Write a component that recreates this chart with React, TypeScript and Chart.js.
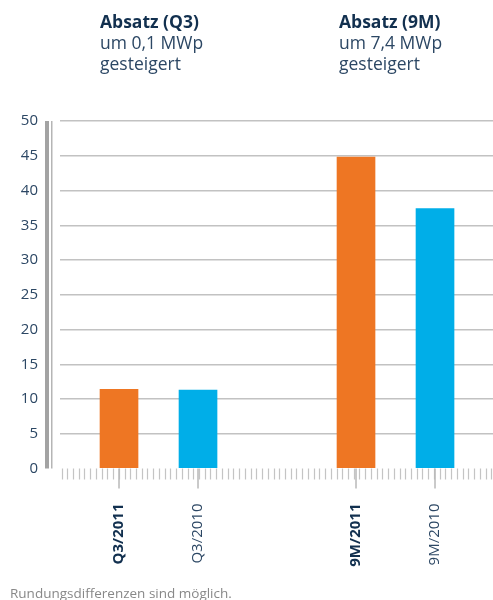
import React, { useEffect, useRef } from "react";
import { Chart, registerables } from "chart.js";

Chart.register(...registerables);

// ---- data ----
const categories = ["Q3/2011", "Q3/2010", "9M/2011", "9M/2010"];
const categoryPositions = [0, 1, 3, 4];
const absatzValues = [11.4, 11.3, 44.8, 37.4];
const boldCategory = [true, false, true, false];
const yTickValues = [0, 5, 10, 15, 20, 25, 30, 35, 40, 45, 50];
const headlineTitles = ["Absatz (Q3)", "Absatz (9M)"];
const headlineLine1 = ["um 0,1 MWp", "um 7,4 MWp"];
const headlineLine2 = ["gesteigert", "gesteigert"];
const footnote = "Rundungsdifferenzen sind möglich.";

// ---- styles ----
const ORANGE = "#EE7623";
const BLUE = "#00AEE8";
const barColors = [ORANGE, BLUE, ORANGE, BLUE];
const FONT = "'Open Sans', 'DejaVu Sans', sans-serif";
const NAVY = "#12304f";
const SLATE = "#2c4764";

const decorPlugin = {
  id: "decor",
  afterDraw(chart: any) {
    const { ctx, chartArea, scales } = chart;
    const y = scales.y;
    const x = scales.x;
    const y0 = y.getPixelForValue(0);
    const yTop = y.getPixelForValue(50);
    ctx.save();
    // double bar at the y axis
    ctx.fillStyle = "#a3a3a3";
    ctx.fillRect(chartArea.left - 15, yTop, 4, y0 - yTop);
    ctx.fillStyle = "#b5b5b5";
    ctx.fillRect(chartArea.left - 9, yTop, 1.5, y0 - yTop);
    // minor ticks
    ctx.strokeStyle = "#c4c4c4";
    ctx.lineWidth = 1.2;
    for (let px = chartArea.left + 1.5; px < chartArea.right; px += 5.73) {
      ctx.beginPath();
      ctx.moveTo(Math.round(px) + 0.5, y0);
      ctx.lineTo(Math.round(px) + 0.5, y0 + 11);
      ctx.stroke();
    }
    // major ticks at categories
    ctx.strokeStyle = "#b8b8b8";
    ctx.lineWidth = 1.5;
    categoryPositions.forEach((v) => {
      const px = x.getPixelForValue(v);
      ctx.beginPath();
      ctx.moveTo(px, y0);
      ctx.lineTo(px, y0 + 20);
      ctx.stroke();
    });
    ctx.restore();
  },
};

function ChartCanvas() {
  const ref = useRef<HTMLCanvasElement | null>(null);
  useEffect(() => {
    if (!ref.current) return;
    const chart = new Chart(ref.current, {
      type: "bar",
      data: {
        datasets: [
          {
            data: categoryPositions.map((p, i) => ({ x: p, y: absatzValues[i] })),
            backgroundColor: barColors,
            barThickness: 38,
            borderWidth: 0,
          },
        ],
      },
      options: {
        responsive: false,
        animation: false,
        layout: { padding: { top: 121, left: 0, right: 0, bottom: 0 } },
        plugins: { legend: { display: false }, tooltip: { enabled: false } },
        scales: {
          x: {
            type: "linear",
            offset: false,
            min: -0.747,
            max: 4.734,
            grid: { display: false, drawTicks: false, offset: false },
            border: { display: false },
            afterBuildTicks: (s: any) => {
              s.ticks = categoryPositions.map((v) => ({ value: v }));
            },
            afterFit: (s: any) => {
              s.height = 131.5;
            },
            ticks: {
              autoSkip: false,
              maxRotation: 90,
              minRotation: 90,
              padding: 35,
              callback: (_v: any, i: number) => categories[i],
              font: (c: any) => ({
                family: FONT,
                size: 15,
                weight: boldCategory[c.index] ? "bold" : "normal",
              }),
              color: (c: any) => (boldCategory[c.index] ? NAVY : SLATE),
            },
          },
          y: {
            min: 0,
            max: 50,
            afterBuildTicks: (s: any) => {
              s.ticks = yTickValues.map((v) => ({ value: v }));
            },
            afterFit: (s: any) => {
              s.width = 60;
            },
            grid: {
              drawTicks: false,
              lineWidth: 1.5,
              color: (c: any) => (c.tick && c.tick.value === 0 ? "rgba(0,0,0,0)" : "#c2c2c2"),
            },
            border: { display: false },
            ticks: {
              padding: 22,
              color: SLATE,
              font: { family: FONT, size: 15 },
            },
          },
        },
      },
      plugins: [decorPlugin],
    } as any);
    return () => chart.destroy();
  }, []);
  return <canvas ref={ref} width={493} height={600} style={{ width: 493, height: 600, display: "block" }} />;
}

export default function App() {
  const headLefts = [100, 339];
  return (
    <div style={{ position: "fixed", left: 0, top: 0, width: 493, height: 600, background: "#fff", overflow: "hidden" }}>
      <ChartCanvas />
      {headlineTitles.map((t, i) => (
        <div
          key={t}
          style={{
            position: "absolute",
            left: headLefts[i],
            top: 11,
            fontFamily: FONT,
            fontSize: 17.5,
            lineHeight: "21px",
            color: SLATE,
          }}
        >
          <div style={{ fontWeight: "bold", color: NAVY }}>{t}</div>
          <div>{headlineLine1[i]}</div>
          <div>{headlineLine2[i]}</div>
        </div>
      ))}
      <div
        style={{
          position: "absolute",
          left: 10,
          top: 584,
          fontFamily: FONT,
          fontSize: 13.5,
          lineHeight: "18px",
          color: "#888888",
          whiteSpace: "nowrap",
        }}
      >
        {footnote}
      </div>
    </div>
  );
}
